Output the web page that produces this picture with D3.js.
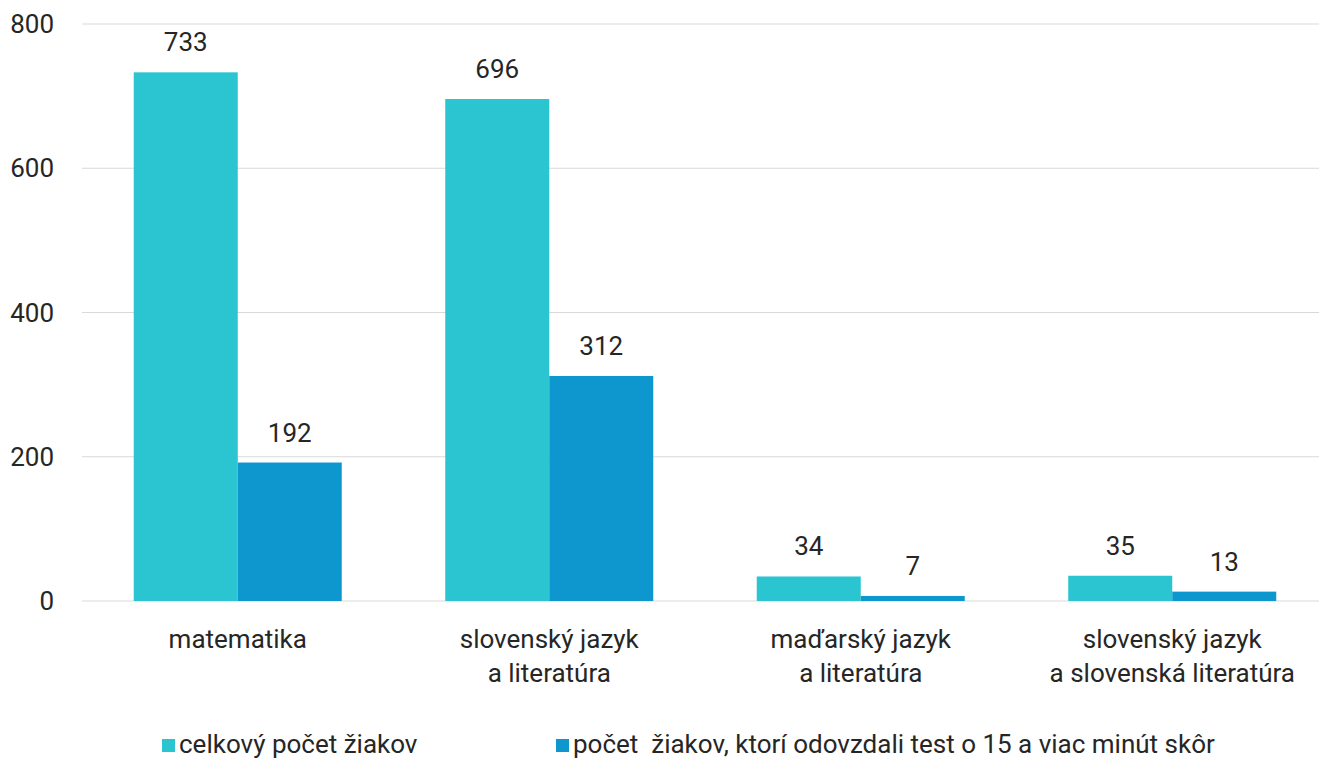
<!DOCTYPE html>
<html>
<head>
<meta charset="utf-8">
<script src="https://cdn.jsdelivr.net/npm/d3@7"></script>
<style>
  body { margin: 0; background: #fff; }
  text { font-family: Roboto, "Noto Sans", sans-serif; fill: #262626; font-size: 26px; }
</style>
</head>
<body>
<script>
var categories = [
    ["matematika"],
    ["slovenský jazyk", "a literatúra"],
    ["maďarský jazyk", "a literatúra"],
    ["slovenský jazyk", "a slovenská literatúra"]
];
var seriesNames = ["celkový počet žiakov", "počet  žiakov, ktorí odovzdali test o 15 a viac minút skôr"];
var totalValues = [733, 696, 34, 35];
var earlyValues = [192, 312, 7, 13];
var yTicks = [0, 200, 400, 600, 800];
var colors = ["#2bc5d1", "#0e97cf"];

var W = 1319, H = 764;
var x0 = 82, x1 = 1328, yTop = 24, yBot = 601;

var svg = d3.select("body").append("svg")
    .attr("width", W)
    .attr("height", H);

var x = d3.scaleBand()
    .domain(d3.range(categories.length))
    .range([x0, x1])
    .padding(0);

var y = d3.scaleLinear().domain([0, 800]).range([yBot, yTop]);

var groupW = 208;
var xs = d3.scaleBand().domain([0, 1]).range([0, groupW]);

// gridlines
svg.append("g").selectAll("line")
    .data(yTicks)
    .enter().append("line")
    .attr("x1", x0).attr("x2", W)
    .attr("y1", d => y(d)).attr("y2", d => y(d))
    .style("stroke", "#d9d9d9")
    .style("stroke-width", 1);

// y tick labels
svg.append("g").selectAll("text")
    .data(yTicks)
    .enter().append("text")
    .attr("x", 54)
    .attr("y", d => y(d) + 9)
    .attr("text-anchor", "end")
    .text(d => d);

var series = [totalValues, earlyValues];
var rows = [];
series.forEach(function(vals, s) {
    vals.forEach(function(v, i) { rows.push({ s: s, i: i, v: v }); });
});

function barX(d) {
    return x(d.i) + x.bandwidth() / 2 - groupW / 2 + xs(d.s);
}

svg.append("g").selectAll("rect")
    .data(rows)
    .enter().append("rect")
    .attr("x", d => barX(d))
    .attr("width", xs.bandwidth())
    .attr("y", d => y(d.v))
    .attr("height", d => yBot - y(d.v))
    .style("fill", d => colors[d.s]);

// value labels
svg.append("g").selectAll("text")
    .data(rows)
    .enter().append("text")
    .attr("x", d => barX(d) + xs.bandwidth() / 2)
    .attr("y", d => y(d.v) - 21)
    .attr("text-anchor", "middle")
    .text(d => d.v);

// category labels
var cat = svg.append("g").selectAll("text")
    .data(categories)
    .enter().append("text")
    .attr("text-anchor", "middle")
    .attr("transform", (d, i) => "translate(" + (x(i) + x.bandwidth() / 2) + ",0)");

cat.selectAll("tspan")
    .data(d => d)
    .enter().append("tspan")
    .attr("x", 0)
    .attr("y", (d, j) => 648 + j * 34)
    .text(d => d);

// legend
var legendX = [162, 556];
var lg = svg.append("g").selectAll("g")
    .data(seriesNames)
    .enter().append("g")
    .attr("transform", (d, i) => "translate(" + legendX[i] + ",739)");

lg.append("rect")
    .attr("width", 13).attr("height", 13)
    .style("fill", (d, i) => colors[i]);

lg.append("text")
    .attr("x", 17)
    .attr("y", 14)
    .attr("xml:space", "preserve")
    .style("white-space", "pre")
    .text(d => d);
</script>
</body>
</html>
